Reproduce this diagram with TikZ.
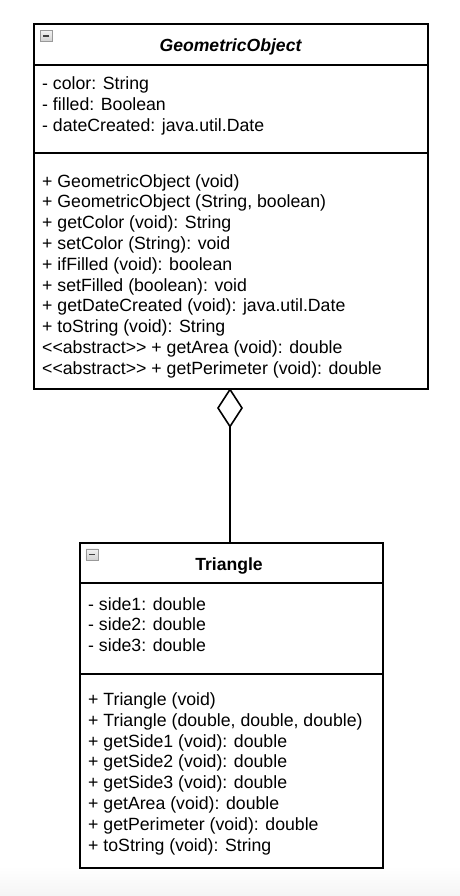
\documentclass[tikz,border=0pt]{standalone}
\usepackage{fontspec}
\setmainfont{Liberation Sans}
\usetikzlibrary{shapes.geometric}
\newcommand{\abstr}{\textless\kern0pt\textless abstract\textgreater\kern0pt\textgreater{}}
\begin{document}
\begin{tikzpicture}[x=1pt,y=-1pt,
  umlbox/.style={draw=black,line width=1.6pt,fill=white,rectangle,inner sep=0pt,outer sep=0pt,anchor=north west},
  sepline/.style={draw=black,line width=1.4pt},
  member/.style={anchor=base west,inner sep=0pt,font=\fontsize{17.7}{20}\selectfont},
  title/.style={anchor=base,inner sep=0pt,font=\fontsize{17.6}{20}\selectfont\bfseries},
  icon/.style={draw=gray!80,top color=gray!10,bottom color=gray!35,line width=0.6pt,rectangle,inner sep=0pt,minimum width=12pt,minimum height=11pt,anchor=north west},
  conn/.style={draw=black,line width=1.6pt}
]
\useasboundingbox (0,0) rectangle (460,896);
\shade[top color=white,bottom color=black!4] (0,866) rectangle (460,896);
% GeometricObject
\node[umlbox,minimum width=394pt,minimum height=365pt] (geo) at (34,24) {};
\draw[sepline] (34,65) -- (428,65);
\draw[sepline] (34,153) -- (428,153);
\node[icon] (geoicon) at (40,30) {};
\draw[line width=1.5pt,black!75] ([xshift=3pt]geoicon.center) -- ([xshift=-3pt]geoicon.center);
\node[title,font=\fontsize{17.6}{20}\selectfont\bfseries\itshape] (geotitle) at (230.5,51.5) {GeometricObject};
\node[member] (ga1) at (42,90) {- color: String};
\node[member] (ga2) at (42,110.8) {- filled: Boolean};
\node[member] (ga3) at (42,131.6) {- dateCreated: java.util.Date};
\node[member] (gm1) at (42,187) {+ GeometricObject (void)};
\node[member] (gm2) at (42,207.8) {+ GeometricObject (String, boolean)};
\node[member] (gm3) at (42,228.6) {+ getColor (void): String};
\node[member] (gm4) at (42,249.4) {+ setColor (String): void};
\node[member] (gm5) at (42,270.2) {+ ifFilled (void): boolean};
\node[member] (gm6) at (42,291) {+ setFilled (boolean): void};
\node[member] (gm7) at (42,311.8) {+ getDateCreated (void): java.util.Date};
\node[member] (gm8) at (42,332.6) {+ toString (void): String};
\node[member] (gm9) at (42,353.4) {\abstr{} + getArea (void): double};
\node[member] (gm10) at (42,374.2) {\abstr{} + getPerimeter (void): double};
% Triangle
\node[umlbox,minimum width=303pt,minimum height=325pt] (tri) at (80,543) {};
\draw[sepline] (80,583) -- (383,583);
\draw[sepline] (80,674) -- (383,674);
\node[icon] (triicon) at (85.5,548.5) {};
\draw[line width=1.5pt,black!75] ([xshift=3pt]triicon.center) -- ([xshift=-3pt]triicon.center);
\node[title] (trititle) at (229,570.5) {Triangle};
\node[member] (ta1) at (88,610) {- side1: double};
\node[member] (ta2) at (88,630.8) {- side2: double};
\node[member] (ta3) at (88,651.6) {- side3: double};
\node[member] (tm1) at (88,705.5) {+ Triangle (void)};
\node[member] (tm2) at (88,726.3) {+ Triangle (double, double, double)};
\node[member] (tm3) at (88,747.1) {+ getSide1 (void): double};
\node[member] (tm4) at (88,767.9) {+ getSide2 (void): double};
\node[member] (tm5) at (88,788.7) {+ getSide3 (void): double};
\node[member] (tm6) at (88,809.5) {+ getArea (void): double};
\node[member] (tm7) at (88,830.3) {+ getPerimeter (void): double};
\node[member] (tm8) at (88,851.1) {+ toString (void): String};
% aggregation
\node[diamond,draw=black,line width=1.6pt,fill=white,inner sep=0pt,outer sep=0pt,minimum width=24pt,minimum height=37pt,anchor=north] (diam) at (230,389.5) {};
\draw[conn] (diam.south) -- (diam.south |- tri.north);
\end{tikzpicture}
\end{document}
